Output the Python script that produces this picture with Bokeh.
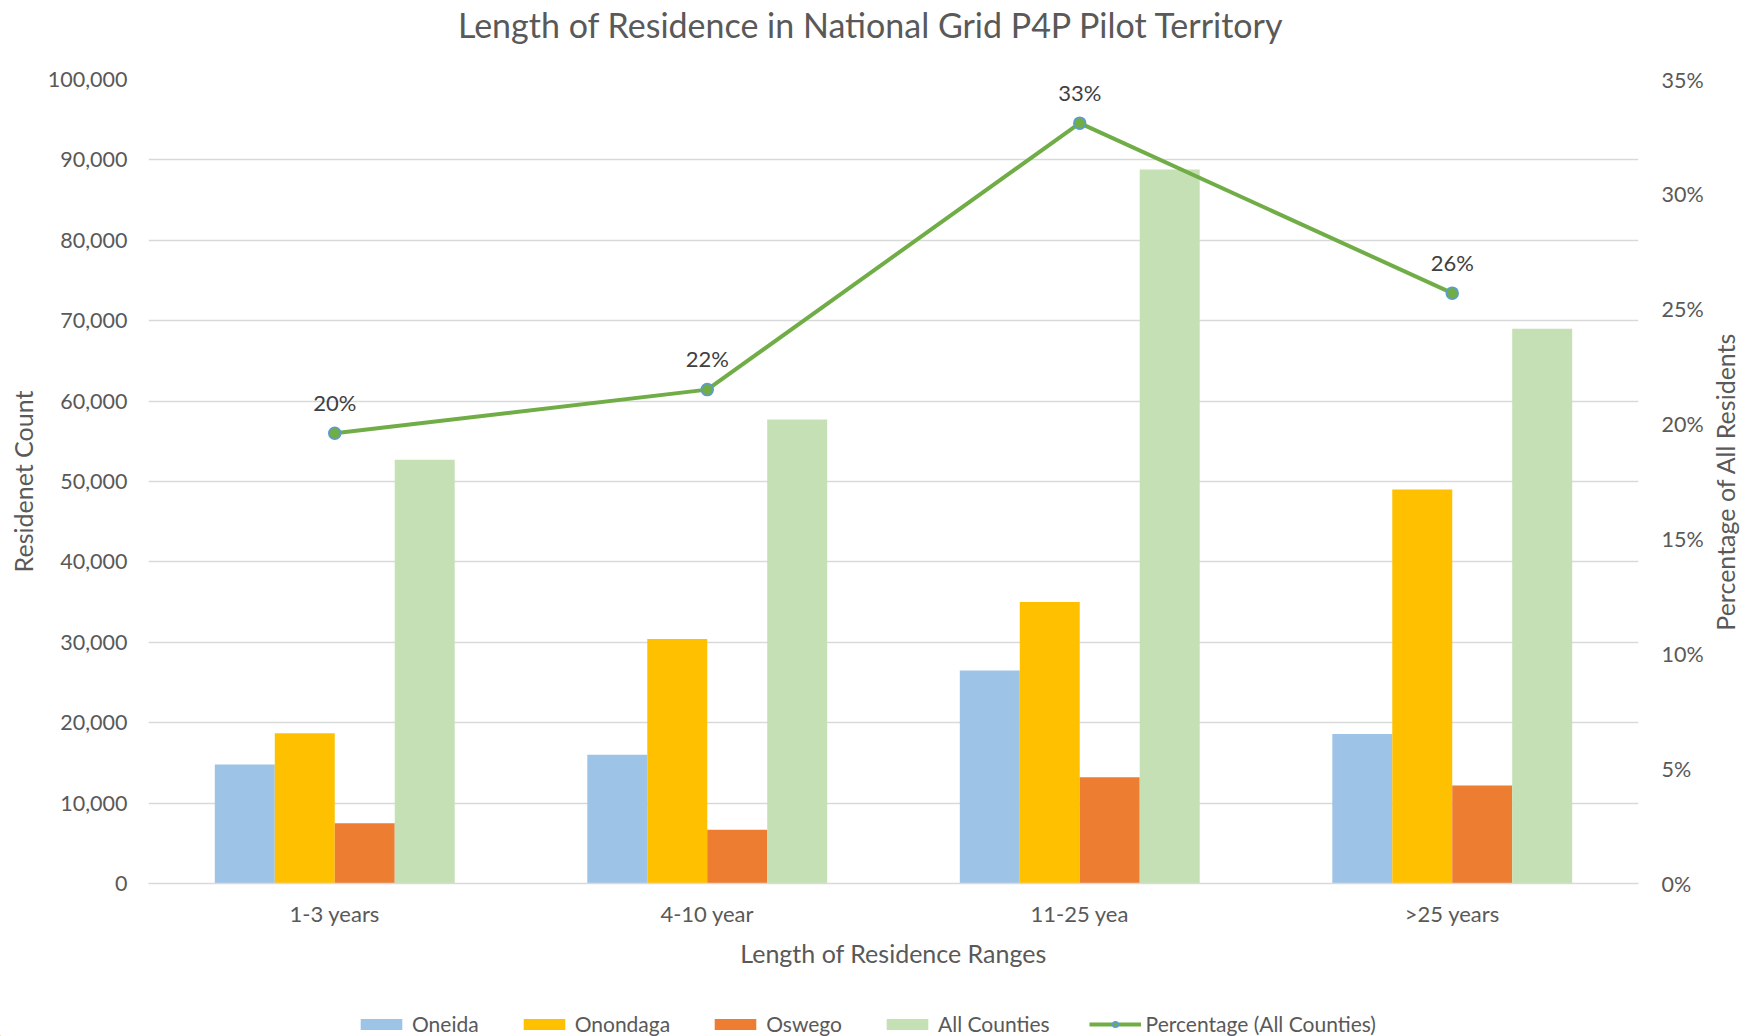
import math
from bokeh.plotting import figure
from bokeh.layouts import column, row
from bokeh.models import (FactorRange, Range1d, LinearAxis, NumeralTickFormatter,
                          FixedTicker, Legend, LegendItem, ColumnDataSource)
from bokeh.transform import dodge
from bokeh.embed import file_html
from bokeh.resources import INLINE
from bokeh.core.properties import value

# ---- data ----
categories = ["1-3 years", "4-10 year", "11-25 yea", ">25 years"]
oneida = [14800, 16000, 26500, 18600]
onondaga = [18700, 30400, 35000, 49000]
oswego = [7500, 6700, 13200, 12200]
all_counties = [52700, 57700, 88800, 69000]
percentage = [0.196, 0.215, 0.331, 0.257]
series_names = ["Oneida", "Onondaga", "Oswego", "All Counties"]
series_keys = ["oneida", "onondaga", "oswego", "all"]
series_colors = ["#9DC3E6", "#FFC000", "#ED7D31", "#C5E0B4"]
left_ticks = [0, 10000, 20000, 30000, 40000, 50000, 60000, 70000, 80000, 90000, 100000]
right_ticks = [0, 0.05, 0.10, 0.15, 0.20, 0.25, 0.30, 0.35]
line_label = "Percentage (All Counties)"
title_text = "Length of Residence in National Grid P4P Pilot Territory"
left_title = "Residenet Count"
right_title = "Percentage of All Residents"
x_title = "Length of Residence Ranges"

FONT = "Lato"
GREY = "#595959"
LINE_COLOR = "#70AD47"
MARKER_EDGE = "#5B9BD5"

# ---- layout sizes (px) ----
W, H = 1742, 1036
TITLE_H = 48
FRAME_L, FRAME_W = 148, 1490
FRAME_T, FRAME_H = 79, 804
RIGHT_B = 66
BOTTOM_B = 100
MAIN_W = FRAME_L + FRAME_W + RIGHT_B
SIDE_W = W - MAIN_W
TOP_B = FRAME_T - TITLE_H
LEG_H = H - FRAME_T - FRAME_H - BOTTOM_B

src = ColumnDataSource(dict(
    cat=categories, oneida=oneida, onondaga=onondaga, oswego=oswego,
    all=all_counties, pct=percentage,
    pct_label=[f"{round(v * 100)}%" for v in percentage],
))


def strip(height):
    f = figure(width=W, height=height, x_range=Range1d(0, W), y_range=Range1d(0, height),
               min_border=0, toolbar_location=None, output_backend="svg",
               x_axis_location=None, y_axis_location=None, outline_line_color=None,
               background_fill_color="white", border_fill_color="white")
    f.title_location = None
    f.grid.visible = False
    return f


# ---- title strip ----
tf = strip(TITLE_H)
tf.text(x=[W / 2], y=[TITLE_H / 2], text=[title_text], text_align="center",
        text_baseline="middle", text_font=value(FONT), text_font_size="34px",
        text_color=GREY)

# ---- main chart ----
p = figure(x_range=FactorRange(*categories), y_range=Range1d(0, 100000),
           frame_width=FRAME_W, frame_height=FRAME_H,
           min_border_left=FRAME_L, min_border_right=RIGHT_B,
           min_border_top=TOP_B, min_border_bottom=BOTTOM_B,
           output_backend="svg", toolbar_location=None,
           background_fill_color="white", border_fill_color="white",
           outline_line_color=None)
p.title_location = None
p.extra_y_ranges = {"pct": Range1d(0, 0.35)}

bw = 0.161
offsets = [-1.5 * bw, -0.5 * bw, 0.5 * bw, 1.5 * bw]
for key, col, off in zip(series_keys, series_colors, offsets):
    p.vbar(x=dodge("cat", off, range=p.x_range), top=key, width=bw, source=src,
           fill_color=col, line_color=None)

p.line(x="cat", y="pct", y_range_name="pct", source=src,
       line_color=LINE_COLOR, line_width=4)
p.scatter(x="cat", y="pct", y_range_name="pct", source=src, size=12,
          fill_color=LINE_COLOR, line_color=MARKER_EDGE, line_width=1.5)

p.text(x="cat", y="pct", text="pct_label", y_range_name="pct", source=src,
       y_offset=-31, text_align="center", text_baseline="middle",
       text_font=value(FONT), text_font_size="22px", text_color="#404040")

p.xgrid.grid_line_color = None
p.ygrid.ticker = FixedTicker(ticks=left_ticks)
p.ygrid.grid_line_color = "#D9D9D9"
p.ygrid.grid_line_width = 1.5

xa = p.xaxis[0]
xa.axis_label = x_title
xa.axis_line_color = "#D9D9D9"
xa.axis_line_width = 1.5
xa.major_tick_line_color = None
xa.minor_tick_line_color = None
xa.major_label_standoff = 10
xa.axis_label_standoff = 8

ya = p.yaxis[0]
ya.axis_label = left_title
ya.ticker = FixedTicker(ticks=left_ticks)
ya.formatter = NumeralTickFormatter(format="0,0")
ya.axis_line_color = None
ya.major_tick_line_color = None
ya.minor_tick_line_color = None
ya.major_label_standoff = 15
ya.axis_label_standoff = 7

ra = LinearAxis(y_range_name="pct", ticker=FixedTicker(ticks=right_ticks),
                formatter=NumeralTickFormatter(format="0%"))
ra.axis_line_color = None
ra.major_tick_line_color = None
ra.minor_tick_line_color = None
ra.major_label_standoff = 17
p.add_layout(ra, "right")

for ax in [xa, ya, ra]:
    ax.major_label_text_font = FONT
    ax.major_label_text_font_size = "21.5px"
    ax.major_label_text_color = GREY
    ax.axis_label_text_font = FONT
    ax.axis_label_text_font_size = "25px"
    ax.axis_label_text_font_style = "normal"
    ax.axis_label_text_color = GREY
xa.major_label_text_font_size = "22px"

# ---- right-hand axis title (reads bottom-to-top) ----
pr = figure(frame_width=1, frame_height=FRAME_H, x_range=Range1d(0, 1),
            y_range=Range1d(0, 0.35),
            min_border_left=SIDE_W - 6, min_border_right=5,
            min_border_top=TOP_B, min_border_bottom=BOTTOM_B,
            x_axis_location=None, y_axis_location="left",
            output_backend="svg", toolbar_location=None,
            background_fill_color="white", border_fill_color="white",
            outline_line_color=None)
pr.title_location = None
pr.grid.visible = False
pa = pr.yaxis[0]
pa.ticker = FixedTicker(ticks=[])
pa.axis_line_color = None
pa.major_tick_out = 0
pa.minor_tick_out = 0
pa.major_tick_in = 0
pa.minor_tick_in = 0
pa.axis_label = right_title
pa.axis_label_standoff = 0
pa.axis_label_text_font = FONT
pa.axis_label_text_font_size = "25px"
pa.axis_label_text_font_style = "normal"
pa.axis_label_text_color = GREY

# ---- legend strip (proxy glyphs sit outside the visible range) ----
lf = strip(LEG_H)
OFF = -1000
items = []
for name, col in zip(series_names, series_colors):
    r = lf.vbar(x=[OFF], top=[1], width=1, fill_color=col, line_color=None)
    items.append(LegendItem(label=name, renderers=[r]))
lr = lf.line(x=[OFF, OFF - 1], y=[1, 1], line_color=LINE_COLOR, line_width=4)
ls = lf.scatter(x=[OFF], y=[1], size=12, fill_color=LINE_COLOR,
                line_color=MARKER_EDGE, line_width=1.5)
items.append(LegendItem(label=line_label, renderers=[lr, ls]))
legend = Legend(items=items, orientation="horizontal", location=(355, 0),
                glyph_width=52, glyph_height=14, label_standoff=5, spacing=39,
                label_text_font=FONT, label_text_font_size="21px",
                label_text_color=GREY, border_line_color=None,
                background_fill_alpha=0, padding=0, margin=0)
lf.add_layout(legend, "center")

layout = column(tf, row(p, pr, spacing=0), lf, spacing=0)
open("out.html", "w").write(file_html(layout, INLINE))
